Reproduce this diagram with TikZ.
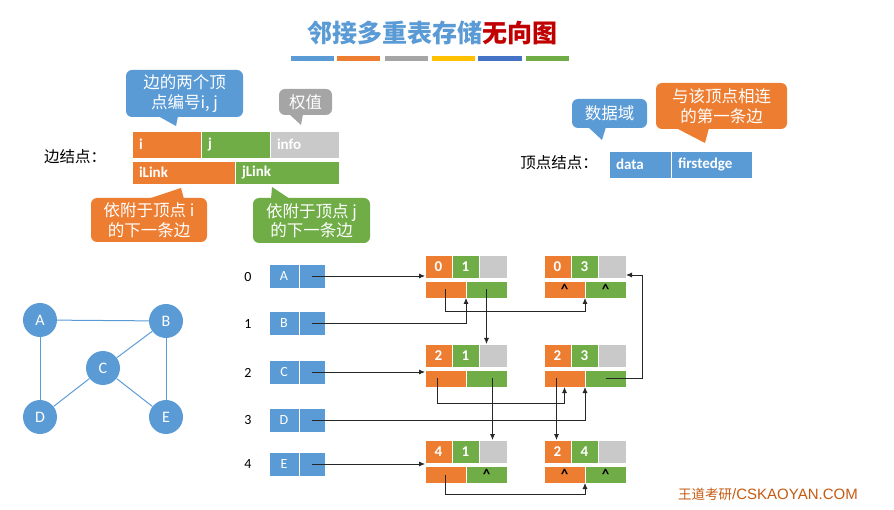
\documentclass[tikz,border=0pt]{standalone}
\usepackage{fontspec}
\setmainfont{Carlito}
\newfontfamily\cjk{Noto Sans CJK SC}
\newfontfamily\arialish{Liberation Sans}
\usepackage{xcolor}
\usepackage{tikz}
\usetikzlibrary{calc, positioning, arrows.meta}

\definecolor{lblue}{HTML}{5B9BD5}
\definecolor{lorng}{HTML}{ED7D31}
\definecolor{lgrn}{HTML}{70AD47}
\definecolor{lgray}{HTML}{C9C9C9}
\definecolor{dgray}{HTML}{A5A5A5}
\definecolor{lyel}{HTML}{FFC000}
\definecolor{dblue}{HTML}{4472C4}
\definecolor{dred}{HTML}{C00000}
\definecolor{brwn}{HTML}{C55A11}

\tikzset{
    cell/.style={draw=white, line width=0.8pt, inner sep=0pt, outer sep=0pt,
        anchor=north west, text=white, font=\bfseries\fontsize{15}{15}\selectfont},
    tcell/.style={cell, minimum width=27pt, minimum height=23pt},
    bcell/.style={cell, minimum width=41pt, minimum height=17pt, text=black},
    field/.style={cell, inner xsep=7pt, align=left, font=\bfseries\fontsize{15}{15}\selectfont},
    vcell/.style={cell, fill=lblue, minimum width=30pt, minimum height=24pt,
        font=\fontsize{14}{14}\selectfont},
    gnode/.style={circle, fill=lblue, minimum size=34pt, inner sep=0pt,
        text=white, font=\fontsize{16}{16}\selectfont},
    callout/.style={rounded corners=6pt, inner sep=0pt, text=white, align=center,
        font=\cjk\fontsize{16.5}{19.5}\selectfont},
    idx/.style={font=\fontsize{14}{14}\selectfont},
    link/.style={->, line width=0.8pt, draw=black!85},
}

% name, x, y (top), i, j, iLink, jLink
\newcommand{\edgenode}[7]{%
    \node[tcell, fill=lorng] (#1a) at (#2,#3) {#4};
    \node[tcell, fill=lgrn] (#1b) at (#2+27,#3) {#5};
    \node[tcell, fill=lgray, minimum width=28pt] (#1c) at (#2+54,#3) {};
    \node[bcell, fill=lorng] (#1i) at (#2,#3+26) {#6};
    \node[bcell, fill=lgrn] (#1j) at (#2+41,#3+26) {#7};
}

\begin{document}
\begin{tikzpicture}[x=1pt, y=-1pt, >={Latex[length=6pt, width=5pt]}]
    \useasboundingbox (0,0) rectangle (894,510);

    % Tiêu đề
    \node[font=\cjk\bfseries\fontsize{25}{25}\selectfont] (title) at (432,33)
        {\textcolor{lblue}{邻接多重表存储}\textcolor{dred}{无向图}};
    \fill[lblue] (291,56) rectangle (334,61);
    \fill[lorng] (337,56) rectangle (380,61);
    \fill[dgray] (385,56) rectangle (428,61);
    \fill[lyel] (432,56) rectangle (475,61);
    \fill[dblue] (478,56) rectangle (522,61);
    \fill[lgrn] (526,56) rectangle (569,61);

    % Edge node
    \node[font=\cjk\fontsize{15.5}{15.5}\selectfont] (edgelbl) at (75,157) {边结点：};
    \node[field, fill=lorng, text width=55pt, minimum height=27pt] (fi) at (132,131) {i};
    \node[field, fill=lgrn, text width=55pt, minimum height=27pt] (fj) at (201,131) {j};
    \node[field, fill=lgray, text width=55pt, minimum height=27pt] (finfo) at (270,131) {info};
    \node[field, fill=lorng, text width=89pt, minimum height=23pt] (fil) at (132,161) {iLink};
    \node[field, fill=lgrn, text width=90pt, minimum height=23pt] (fjl) at (235,161) {jLink};

    % Callouts for the edge node
    \node[callout, fill=lblue, minimum width=117pt, minimum height=47pt] (cij) at (184.5,93.5)
        {边的两个顶\\点编号i, j};
    \fill[lblue] (158,116) -- (176,126) -- (178,116) -- cycle;
    \node[callout, fill=dgray, minimum width=53pt, minimum height=26pt] (cinfo) at (305.5,102) {权值};
    \fill[dgray] (289,114) -- (301,125) -- (303,114) -- cycle;
    \node[callout, fill=lorng, minimum width=116pt, minimum height=44pt] (cil) at (149,220)
        {依附于顶点 i\\的下一条边};
    \fill[lorng] (148,199) -- (181,188) -- (184,199) -- cycle;
    \node[callout, fill=lgrn, minimum width=117pt, minimum height=45pt] (cjl) at (311.5,220.5)
        {依附于顶点 j\\的下一条边};
    \fill[lgrn] (271,199) -- (272,187) -- (290,199) -- cycle;

    % Vertex node
    \node[font=\cjk\fontsize{15.5}{15.5}\selectfont] (vertlbl) at (559,163) {顶点结点：};
    \node[field, fill=lblue, text width=48pt, minimum height=27pt] (fdata) at (609,151) {data};
    \node[field, fill=lblue, text width=67pt, minimum height=27pt] (ffirst) at (671,151) {firstedge};
    \node[callout, fill=lblue, minimum width=75pt, minimum height=29pt] (cdata) at (609.5,113.5) {数据域};
    \fill[lblue] (588,127) -- (602,140) -- (606,127) -- cycle;
    \node[callout, fill=lorng, minimum width=131pt, minimum height=46pt] (cfirst) at (721.5,106)
        {与该顶点相连\\的第一条边};
    \fill[lorng] (676,128) -- (705,143) -- (709,128) -- cycle;

    % Graph
    \node[gnode] (gA) at (40,320) {A};
    \node[gnode] (gB) at (166,321) {B};
    \node[gnode] (gC) at (103,368) {C};
    \node[gnode] (gD) at (40,417) {D};
    \node[gnode] (gE) at (166,417) {E};
    \draw[lblue, line width=1pt] (gA) -- (gB);
    \draw[lblue, line width=1pt] (gA) -- (gD);
    \draw[lblue, line width=1pt] (gB) -- (gC);
    \draw[lblue, line width=1pt] (gB) -- (gE);
    \draw[lblue, line width=1pt] (gC) -- (gD);
    \draw[lblue, line width=1pt] (gC) -- (gE);

    % Vertex table
    \node[idx] (n0) at (248,277) {0};
    \node[idx] (n1) at (248,324) {1};
    \node[idx] (n2) at (248,373) {2};
    \node[idx] (n3) at (248,420) {3};
    \node[idx] (n4) at (248,464) {4};
    \node[vcell] (vA) at (269,264) {A};
    \node[vcell, minimum width=26pt] (vAp) at (299,264) {};
    \node[vcell] (vB) at (269,311) {B};
    \node[vcell, minimum width=26pt] (vBp) at (299,311) {};
    \node[vcell] (vC) at (269,360) {C};
    \node[vcell, minimum width=26pt] (vCp) at (299,360) {};
    \node[vcell] (vD) at (269,408) {D};
    \node[vcell, minimum width=26pt] (vDp) at (299,408) {};
    \node[vcell] (vE) at (269,452) {E};
    \node[vcell, minimum width=26pt] (vEp) at (299,452) {};

    % Edge nodes
    \edgenode{e01}{425}{255}{0}{1}{}{}
    \edgenode{e03}{544}{255}{0}{3}{\textasciicircum}{\textasciicircum}
    \edgenode{e21}{425}{344}{2}{1}{}{}
    \edgenode{e23}{544}{344}{2}{3}{}{}
    \edgenode{e41}{425}{440}{4}{1}{}{\textasciicircum}
    \edgenode{e24}{544}{440}{2}{4}{\textasciicircum}{\textasciicircum}

    % Links
    \draw[link] (vAp.center) -- (vAp.center -| e01a.west);
    \draw[link] (vBp.center) -| (e01j.south west);
    \draw[link] (e01i.center) -- ++(0,22) -| (e03i.south east);
    \draw[link] (e01j.center) -- (e01j.center |- e21c.north);
    \draw[link] (vCp.center) -- (vCp.center -| e21a.west);
    \draw[link] ($(e21i.center)+(-8,0)$) -- ++(0,25) -| (e23i.south);
    \draw[link] ($(e21j.center)+(6,0)$) coordinate (s1) -- (s1 |- e41c.north);
    \draw[link] ($(e23i.center)+(-8,0)$) coordinate (s2) -- (s2 |- e24a.north);
    \draw[link] (e23j.center) -- ++(37,0) |- ($(e03c.south east)+(0,-3)$);
    \draw[link] (vDp.center) -| (e23i.south east);
    \draw[link] (vEp.center) -- (vEp.center -| e41a.west);
    \draw[link] (e41i.center) -- ++(0,20) -| (e24i.south east);

    % Footer
    \node[text=brwn, font=\fontsize{15}{15}\selectfont] (foot) at (768,494)
        {{\cjk\fontsize{13.5}{15}\selectfont 王道考研}{\arialish /CSKAOYAN.COM}};

\end{tikzpicture}
\end{document}
